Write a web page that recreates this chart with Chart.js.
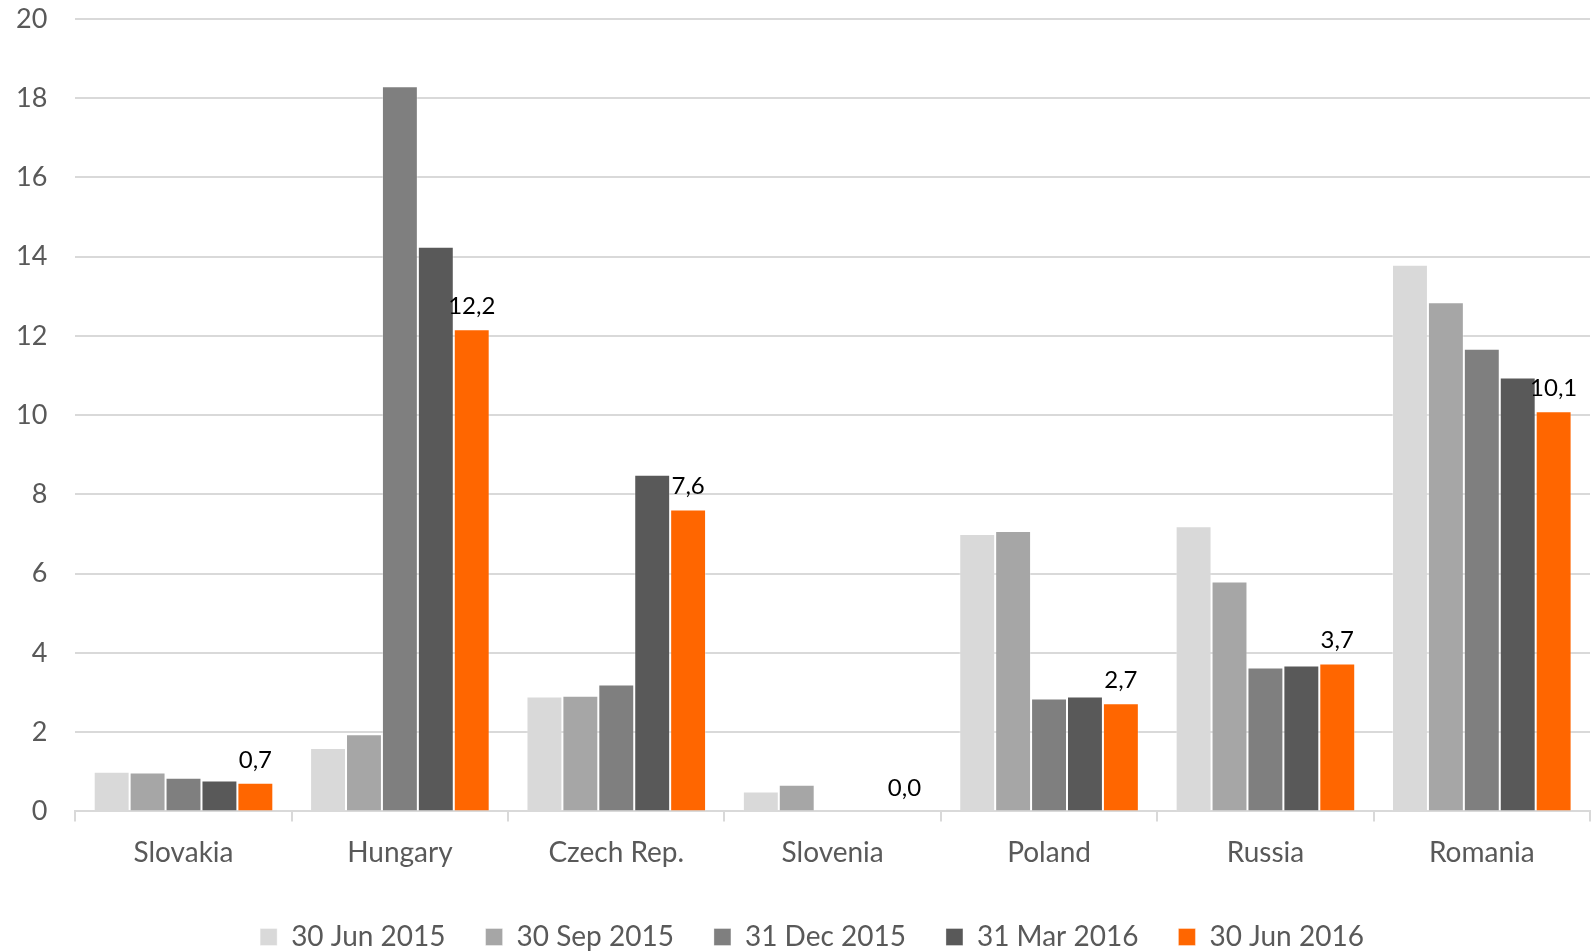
<!DOCTYPE html>
<html>
<head>
<meta charset="utf-8">
<script src="https://cdn.jsdelivr.net/npm/chart.js@4"></script>
<style>
  html, body { margin: 0; padding: 0; background: #fff; overflow: hidden; }
  #wrap { width: 1594px; height: 961px; position: relative; }
</style>
</head>
<body>
<div id="wrap"><canvas id="chart"></canvas></div>
<script>
// categories and series
const countries = ["Slovakia", "Hungary", "Czech Rep.", "Slovenia", "Poland", "Russia", "Romania"];
const seriesNames = ["30 Jun 2015", "30 Sep 2015", "31 Dec 2015", "31 Mar 2016", "30 Jun 2016"];
const seriesColors = ["#d9d9d9", "#a6a6a6", "#7f7f7f", "#595959", "#ff6600"];

const jun2015 = [1.0, 1.6, 2.9, 0.5, 7.0, 7.2, 13.8];
const sep2015 = [0.98, 1.95, 2.92, 0.67, 7.08, 5.8, 12.85];
const dec2015 = [0.85, 18.3, 3.2, 0, 2.85, 3.63, 11.68];
const mar2016 = [0.78, 14.25, 8.5, 0, 2.9, 3.68, 10.95];
const jun2016 = [0.72, 12.17, 7.62, 0, 2.73, 3.73, 10.1];

const yTicks = [0, 2, 4, 6, 8, 10, 12, 14, 16, 18, 20];

const allSeries = [jun2015, sep2015, dec2015, mar2016, jun2016];

const FONT = "Lato, 'Open Sans', sans-serif";

// label only the last series, comma decimals
const lastLabels = {
    id: "lastLabels",
    afterDatasetsDraw(chart) {
        const ctx = chart.ctx;
        const idx = chart.data.datasets.length - 1;
        const meta = chart.getDatasetMeta(idx);
        ctx.save();
        ctx.fillStyle = "#000";
        ctx.font = "24px " + FONT;
        ctx.textAlign = "center";
        ctx.textBaseline = "bottom";
        meta.data.forEach((bar, i) => {
            const v = chart.data.datasets[idx].data[i];
            const txt = v.toFixed(1).replace(".", ",");
            let x = bar.x;
            const w = ctx.measureText(txt).width;
            if (x + w / 2 > chart.width - 2) x = chart.width - 2 - w / 2;
            ctx.fillText(txt, x, bar.y - 11);
        });
        ctx.restore();
    }
};

// nudge the legend so it sits centred under the page
const legendShift = {
    id: "legendShift",
    afterLayout(chart) {
        if (chart.legend) {
            chart.legend.left += 23;
            chart.legend.right += 23;
        }
    }
};

const ctx = document.getElementById("chart").getContext("2d");
new Chart(ctx, {
    type: "bar",
    data: {
        labels: countries,
        datasets: allSeries.map((d, i) => ({
            label: seriesNames[i],
            data: d,
            backgroundColor: seriesColors[i],
            borderColor: "rgba(255,255,255,0.35)",
            borderWidth: 1
        }))
    },
    options: {
        responsive: true,
        maintainAspectRatio: false,
        animation: false,
        layout: { padding: { top: 19, left: -12, right: 4, bottom: 0 } },
        datasets: {
            bar: { categoryPercentage: 0.83, barPercentage: 1.0 }
        },
        scales: {
            x: {
                afterFit(axis) { axis.height -= 2; },
                grid: {
                    offset: true,
                    drawOnChartArea: false,
                    drawTicks: true,
                    tickLength: 10,
                    color: "#d9d9d9",
                    lineWidth: 2
                },
                border: { color: "#d9d9d9", width: 2 },
                ticks: {
                    color: "#595959",
                    font: { size: 28, family: FONT },
                    padding: 15
                }
            },
            y: {
                min: 0,
                max: 20,
                afterBuildTicks(axis) {
                    axis.ticks = yTicks.map(v => ({ value: v }));
                },
                afterFit(axis) { axis.paddingTop = 0; },
                grid: { color: "#d9d9d9", lineWidth: 2, drawTicks: false },
                border: { display: false },
                ticks: {
                    color: "#595959",
                    font: { size: 27, family: FONT },
                    padding: 28
                }
            }
        },
        plugins: {
            legend: {
                position: "bottom",
                labels: {
                    color: "#595959",
                    font: { size: 28, family: FONT },
                    boxWidth: 17,
                    boxHeight: 17,
                    padding: 40
                }
            },
            tooltip: { enabled: false },
            title: { display: false }
        }
    },
    plugins: [lastLabels, legendShift]
});
</script>
</body>
</html>
